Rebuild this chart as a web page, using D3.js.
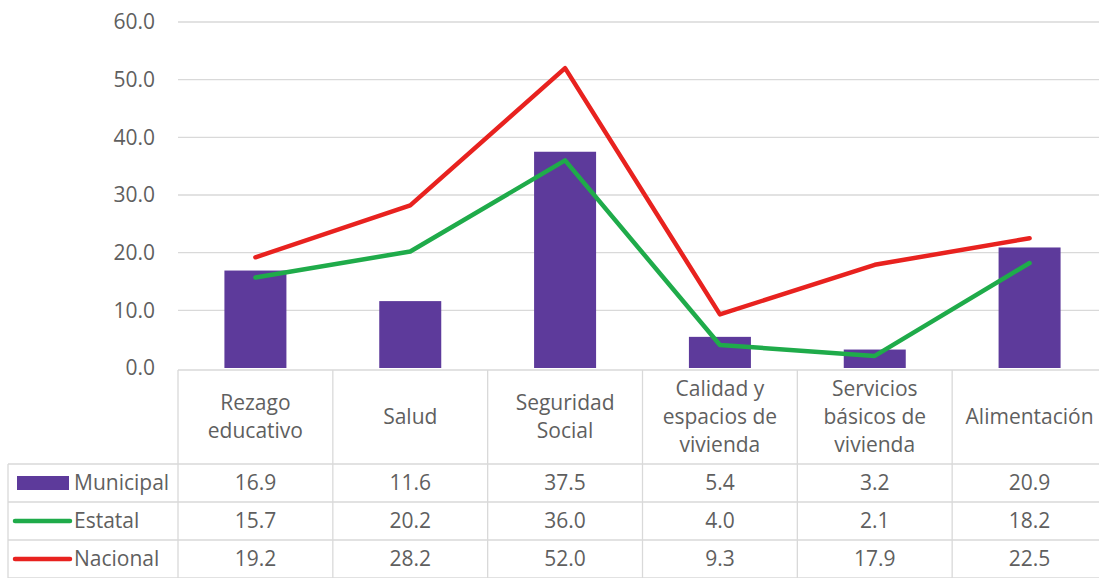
<!DOCTYPE html>
<html lang="es">
<head>
    <meta charset="UTF-8">
    <title>Carencias sociales</title>
    <script src="https://d3js.org/d3.v7.min.js"></script>
    <style>
        body { margin: 0; background: #fff; }
        svg { display: block; font-family: 'Open Sans', sans-serif; }
        .grid line { stroke: #d9d9d9; stroke-width: 1.3px; }
        .tbl line { stroke: #d9d9d9; stroke-width: 1.3px; }
        text { fill: #5f5f5f; font-size: 21px; }
    </style>
</head>
<body>
<svg id="chart" width="1099" height="578"></svg>
<script>
    // categories (header lines) and series values
    const categories = [
        ["Rezago", "educativo"],
        ["Salud"],
        ["Seguridad", "Social"],
        ["Calidad y", "espacios de", "vivienda"],
        ["Servicios", "básicos de", "vivienda"],
        ["Alimentación"]
    ];
    const municipal = [16.9, 11.6, 37.5, 5.4, 3.2, 20.9];
    const estatal = [15.7, 20.2, 36.0, 4.0, 2.1, 18.2];
    const nacional = [19.2, 28.2, 52.0, 9.3, 17.9, 22.5];
    const yTicks = [0, 10, 20, 30, 40, 50, 60];

    const series = [
        { name: "Municipal", values: municipal, color: "#5d3a9b", type: "bar" },
        { name: "Estatal", values: estatal, color: "#1fab4a", type: "line" },
        { name: "Nacional", values: nacional, color: "#e8221f", type: "line" }
    ];

    const svg = d3.select("#chart");
    const plotLeft = 178, plotRight = 1107;
    const plotTop = 22, plotBottom = 368;

    const x = d3.scaleBand()
        .domain(d3.range(categories.length))
        .range([plotLeft, plotRight]);
    const y = d3.scaleLinear().domain([0, 60]).range([plotBottom, plotTop]);

    // gridlines
    const grid = svg.append("g").attr("class", "grid");
    grid.selectAll("line")
        .data(yTicks.filter(d => d > 0))
        .enter().append("line")
        .attr("x1", plotLeft).attr("x2", plotRight)
        .attr("y1", d => y(d)).attr("y2", d => y(d));

    // y axis labels
    svg.append("g").selectAll("text")
        .data(yTicks)
        .enter().append("text")
        .attr("x", 155)
        .attr("y", d => y(d))
        .attr("dy", "0.35em")
        .attr("text-anchor", "end")
        .text(d => d3.format(".1f")(d));

    // bars
    const barW = 62;
    svg.append("g").selectAll("rect")
        .data(municipal)
        .enter().append("rect")
        .attr("x", (d, i) => x(i) + x.bandwidth() / 2 - barW / 2)
        .attr("width", barW)
        .attr("y", d => y(d))
        .attr("height", d => y(0) - y(d))
        .attr("fill", series[0].color);

    // lines
    const line = d3.line()
        .x((d, i) => x(i) + x.bandwidth() / 2)
        .y(d => y(d));

    series.filter(s => s.type === "line").forEach(s => {
        svg.append("path")
            .datum(s.values)
            .attr("fill", "none")
            .attr("stroke", s.color)
            .attr("stroke-width", 4.5)
            .attr("stroke-linejoin", "round")
            .attr("stroke-linecap", "round")
            .attr("d", line);
    });

    // data table
    const headTop = 370, headBottom = 464, rowH = 38;
    const tableLeft = 8;
    const tbl = svg.append("g").attr("class", "tbl");

    // horizontal rules
    tbl.append("line").attr("x1", plotLeft).attr("x2", plotRight)
        .attr("y1", headTop).attr("y2", headTop);
    d3.range(series.length + 1).forEach(r => {
        const yy = headBottom + r * rowH;
        tbl.append("line").attr("x1", tableLeft).attr("x2", plotRight)
            .attr("y1", yy).attr("y2", yy);
    });
    // vertical rules
    tbl.append("line").attr("x1", tableLeft).attr("x2", tableLeft)
        .attr("y1", headBottom).attr("y2", headBottom + series.length * rowH);
    d3.range(categories.length + 1).forEach(i => {
        const xx = i < categories.length ? x(i) : plotRight;
        tbl.append("line").attr("x1", xx).attr("x2", xx)
            .attr("y1", headTop).attr("y2", headBottom + series.length * rowH);
    });

    // header labels
    const lh = 28;
    categories.forEach((lines, i) => {
        const cx = x(i) + x.bandwidth() / 2;
        const cy = (headTop + headBottom) / 2;
        const t = svg.append("text")
            .attr("text-anchor", "middle");
        lines.forEach((ln, k) => {
            t.append("tspan")
                .attr("x", cx)
                .attr("y", cy + (k - (lines.length - 1) / 2) * lh)
                .attr("dy", "0.35em")
                .text(ln);
        });
    });

    // rows: legend key + values
    series.forEach((s, r) => {
        const cy = headBottom + r * rowH + rowH / 2;
        if (s.type === "bar") {
            svg.append("rect")
                .attr("x", 17).attr("y", cy - 7)
                .attr("width", 52).attr("height", 14)
                .attr("fill", s.color);
        } else {
            svg.append("line")
                .attr("x1", 15).attr("x2", 70)
                .attr("y1", cy).attr("y2", cy)
                .attr("stroke", s.color)
                .attr("stroke-width", 4.5)
                .attr("stroke-linecap", "round");
        }
        svg.append("text")
            .attr("x", 74).attr("y", cy)
            .attr("dy", "0.35em")
            .text(s.name);

        s.values.forEach((v, i) => {
            svg.append("text")
                .attr("x", x(i) + x.bandwidth() / 2)
                .attr("y", cy)
                .attr("dy", "0.35em")
                .attr("text-anchor", "middle")
                .text(d3.format(".1f")(v));
        });
    });
</script>
</body>
</html>
